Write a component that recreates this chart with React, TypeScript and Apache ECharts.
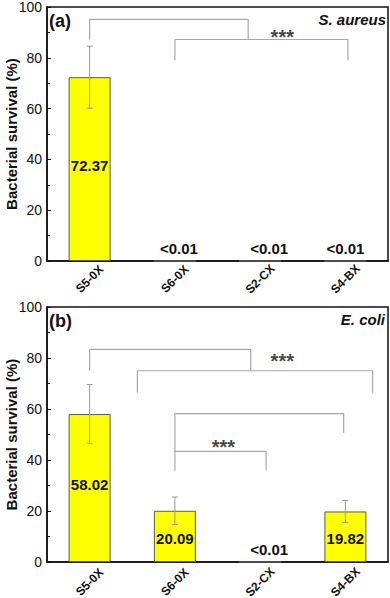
import React, { useEffect, useRef } from "react";
import * as echarts from "echarts";

const categories = ["S5-0X", "S6-0X", "S2-CX", "S4-BX"];

const aureusValues = [72.37, 0, 0, 0];
const aureusErrors = [12.2, 0, 0, 0];
const aureusLabels = ["72.37", "<0.01", "<0.01", "<0.01"];

const coliValues = [58.02, 20.09, 0, 19.82];
const coliErrors = [11.6, 5.4, 0, 4.3];
const coliLabels = ["58.02", "20.09", "<0.01", "19.82"];

const yTicks = { min: 0, max: 100, interval: 20 };

// significance brackets: [categoryPosition, value]
const aureusBrackets = [
  [[0, 87.2], [0, 95.1], [1.86, 95.1], [1.86, 87.2]],
  [[1, 79], [1, 87.2], [3.03, 87.2], [3.03, 79]],
];
const aureusStars = [[2.26, 89.6]];

const coliBrackets = [
  [[0, 75], [0, 83.4], [1.89, 83.4], [1.89, 75]],
  [[0.56, 66.4], [0.56, 75], [3.32, 75], [3.32, 66.4]],
  [[1, 35.8], [1, 58.2], [2.98, 58.2], [2.98, 50.7]],
  [[1, 43.4], [2.07, 43.4], [2.07, 36]],
];
const coliStars = [[2.26, 80.5], [1.57, 46.7]];

const FONT = "Liberation Sans, Arial, sans-serif";

export default function App() {
  const ref = useRef<HTMLDivElement>(null);

  useEffect(() => {
    document.body.style.margin = "0";
    const chart = echarts.init(ref.current!, null, { renderer: "svg" });

    const grids = [
      { left: 47, top: 7, width: 341, height: 254 },
      { left: 47, top: 307, width: 341, height: 255 },
    ];

    const xAxes: any[] = [];
    const yAxes: any[] = [];
    const series: any[] = [];

    const panels = [
      { values: aureusValues, errors: aureusErrors, labels: aureusLabels, brackets: aureusBrackets, stars: aureusStars, margin: 18 },
      { values: coliValues, errors: coliErrors, labels: coliLabels, brackets: coliBrackets, stars: coliStars, margin: 20 },
    ];

    panels.forEach((p, gi) => {
      const catAxis = xAxes.length;
      xAxes.push({
        type: "category",
        gridIndex: gi,
        data: categories,
        axisLine: { onZero: false, lineStyle: { color: "#111", width: 1.5 } },
        axisTick: { show: false },
        axisLabel: {
          rotate: 45,
          align: "center",
          verticalAlign: "middle",
          margin: p.margin,
          fontFamily: FONT,
          fontWeight: "bold",
          fontSize: 12,
          color: "#111",
        },
        splitLine: { show: false },
      });
      const valAxis = xAxes.length;
      xAxes.push({
        type: "value",
        gridIndex: gi,
        min: -0.5,
        max: 3.5,
        show: false,
      });
      yAxes.push({
        type: "value",
        gridIndex: gi,
        min: yTicks.min,
        max: yTicks.max,
        interval: yTicks.interval,
        name: "Bacterial survival (%)",
        nameLocation: "middle",
        nameGap: 28,
        nameMoveOverlap: false,
        nameTextStyle: { fontFamily: FONT, fontWeight: "bold", fontSize: 15, color: "#111" },
        axisLine: { show: true, onZero: false, lineStyle: { color: "#111", width: 1.5 } },
        axisTick: { show: true, inside: true, length: 4, lineStyle: { color: "#111" } },
        minorTick: { show: true, splitNumber: 2, length: 3, lineStyle: { color: "#111" } },
        axisLabel: { fontFamily: FONT, fontSize: 14, color: "#111", margin: 5 },
        splitLine: { show: false },
      });

      series.push({
        type: "bar",
        xAxisIndex: catAxis,
        yAxisIndex: gi,
        barWidth: 42,
        itemStyle: { color: "#ffff00", borderColor: "#5a5a5a", borderWidth: 1 },
        data: p.values.map((v, i) => {
          const small = v < 1;
          return {
            value: v,
            label: {
              show: true,
              position: small ? "top" : "inside",
              distance: 5,
              offset: small ? (i === 2 ? [9, 0] : i === 1 ? [4, 0] : [0, 0]) : v > 40 ? [0, -4] : [0, 2],
              formatter: p.labels[i],
              fontFamily: FONT,
              fontWeight: "bold",
              fontSize: 15,
              color: "#111",
            },
          };
        }),
      });

      series.push({
        type: "custom",
        xAxisIndex: catAxis,
        yAxisIndex: gi,
        data: p.values.map((v, i) => [i, v, p.errors[i]]).filter((d) => d[2] > 0),
        encode: { x: 0, y: 1 },
        z: 5,
        renderItem: (params: any, api: any) => {
          const x = api.value(0);
          const y = api.value(1);
          const e = api.value(2);
          const lo = api.coord([x, y - e]);
          const hi = api.coord([x, y + e]);
          const w = 3;
          const style = { stroke: "#9a9a9a", lineWidth: 1 };
          return {
            type: "group",
            children: [
              { type: "line", shape: { x1: lo[0], y1: lo[1], x2: hi[0], y2: hi[1] }, style },
              { type: "line", shape: { x1: lo[0] - w, y1: lo[1], x2: lo[0] + w, y2: lo[1] }, style },
              { type: "line", shape: { x1: hi[0] - w, y1: hi[1], x2: hi[0] + w, y2: hi[1] }, style },
            ],
          };
        },
      });

      p.brackets.forEach((b) => {
        series.push({
          type: "line",
          xAxisIndex: valAxis,
          yAxisIndex: gi,
          data: b,
          symbol: "none",
          lineStyle: { color: "#a8a8a8", width: 1.2 },
          z: 4,
        });
      });

      series.push({
        type: "scatter",
        xAxisIndex: valAxis,
        yAxisIndex: gi,
        data: p.stars,
        symbolSize: 0,
        label: {
          show: true,
          position: "inside",
          formatter: "***",
          offset: [0, 4],
          fontFamily: FONT,
          fontWeight: "bold",
          fontSize: 20,
          color: "#111",
        },
      });
    });

    chart.setOption({
      animation: false,
      grid: grids.map((g) => ({
        ...g,
        outerBoundsMode: "none",
        containLabel: false,
        show: true,
        borderColor: "#111",
        borderWidth: 1.5,
        backgroundColor: "transparent",
      })),
      xAxis: xAxes,
      yAxis: yAxes,
      series,
      graphic: [
        { type: "text", left: 49, top: 12, style: { text: "(a)", fontFamily: FONT, fontWeight: "bold", fontSize: 18, fill: "#111" } },
        { type: "text", right: 4, top: 12, style: { text: "S. aureus", fontFamily: FONT, fontWeight: "bold", fontStyle: "italic", fontSize: 15, fill: "#111" } },
        { type: "text", left: 49, top: 312, style: { text: "(b)", fontFamily: FONT, fontWeight: "bold", fontSize: 18, fill: "#111" } },
        { type: "text", right: 5, top: 312, style: { text: "E. coli", fontFamily: FONT, fontWeight: "bold", fontStyle: "italic", fontSize: 15, fill: "#111" } },
      ],
    });

    return () => chart.dispose();
  }, []);

  return <div ref={ref} style={{ width: 390, height: 598 }} />;
}
